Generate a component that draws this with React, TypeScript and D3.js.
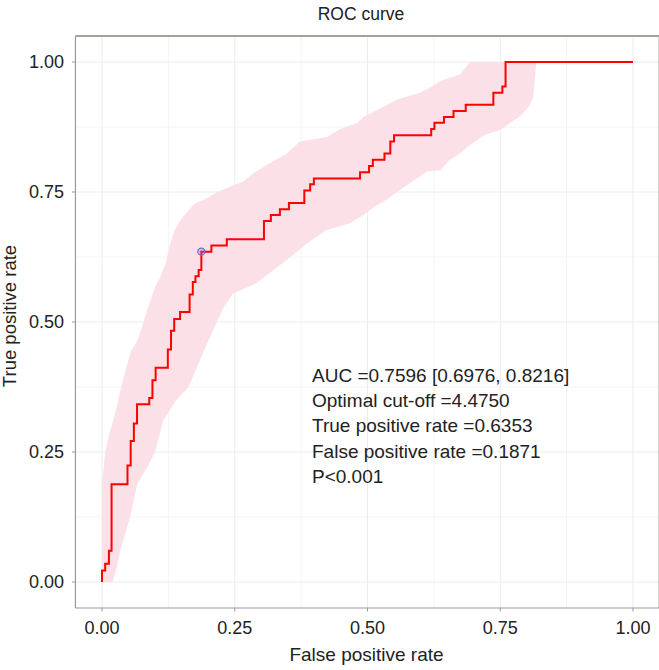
import React from "react";
import * as d3 from "d3";

// ---- data ----
const xTicks = [0, 0.25, 0.5, 0.75, 1];
const yTicks = [0, 0.25, 0.5, 0.75, 1];
const tickLabels = ["0.00", "0.25", "0.50", "0.75", "1.00"];
const minorBreaks = [0.125, 0.375, 0.625, 0.875];

// ROC staircase vertices (tops of each vertical step)
const rocFpr = [0, 0, 0.006, 0.013, 0.018, 0.048, 0.054, 0.06, 0.066, 0.089, 0.095, 0.101, 0.124, 0.13, 0.136, 0.147, 0.165, 0.171, 0.176, 0.182, 0.1871, 0.206, 0.235, 0.305, 0.318, 0.335, 0.352, 0.381, 0.392, 0.399, 0.486, 0.503, 0.51, 0.532, 0.543, 0.55, 0.62, 0.626, 0.644, 0.662, 0.685, 0.737, 0.754, 0.76, 1];
const rocTpr = [0, 0.022, 0.035, 0.06, 0.188, 0.224, 0.271, 0.305, 0.342, 0.354, 0.388, 0.412, 0.447, 0.483, 0.506, 0.519, 0.553, 0.577, 0.588, 0.6, 0.6353, 0.647, 0.659, 0.694, 0.706, 0.717, 0.729, 0.753, 0.765, 0.776, 0.788, 0.8, 0.812, 0.824, 0.847, 0.859, 0.871, 0.883, 0.894, 0.906, 0.918, 0.941, 0.953, 1, 1];

// Confidence band edges
const ciUpperFpr = [0, 0.006, 0.015, 0.025, 0.035, 0.045, 0.055, 0.065, 0.075, 0.085, 0.1, 0.11, 0.12, 0.128, 0.137, 0.15, 0.163, 0.175, 0.197, 0.219, 0.241, 0.266, 0.285, 0.31, 0.348, 0.373, 0.423, 0.448, 0.48, 0.492, 0.514, 0.536, 0.555, 0.599, 0.621, 0.64, 0.674, 0.693, 1];
const ciUpperTpr = [0.19, 0.25, 0.29, 0.325, 0.37, 0.41, 0.445, 0.46, 0.49, 0.523, 0.568, 0.587, 0.613, 0.65, 0.677, 0.699, 0.715, 0.728, 0.738, 0.751, 0.76, 0.77, 0.786, 0.802, 0.824, 0.847, 0.856, 0.871, 0.882, 0.894, 0.906, 0.917, 0.928, 0.941, 0.953, 0.965, 0.976, 1, 1];
const ciLowerFpr = [0, 0.02, 0.025, 0.034, 0.053, 0.067, 0.085, 0.1, 0.115, 0.14, 0.163, 0.19, 0.216, 0.23, 0.247, 0.29, 0.323, 0.348, 0.386, 0.423, 0.467, 0.492, 0.514, 0.536, 0.561, 0.589, 0.611, 0.637, 0.655, 0.674, 0.693, 0.721, 0.75, 0.768, 0.787, 0.806, 0.812, 0.815, 0.818, 1];
const ciLowerTpr = [0, 0, 0.017, 0.058, 0.125, 0.19, 0.22, 0.25, 0.31, 0.35, 0.375, 0.44, 0.5, 0.53, 0.555, 0.574, 0.6, 0.619, 0.651, 0.677, 0.69, 0.706, 0.722, 0.735, 0.754, 0.773, 0.789, 0.792, 0.812, 0.824, 0.84, 0.86, 0.869, 0.882, 0.895, 0.917, 0.933, 0.965, 1, 1];

const optimalFpr = [0.1871];
const optimalTpr = [0.6353];

const annotationLines = [
  "AUC =0.7596 [0.6976, 0.8216]",
  "Optimal cut-off =4.4750",
  "True positive rate =0.6353",
  "False positive rate =0.1871",
  "P<0.001",
];

const titleText = "ROC curve";
const xLabel = "False positive rate";
const yLabel = "True positive rate";

const FONT = "'Liberation Sans', Arial, Helvetica, sans-serif";

export default function App() {
  const W = 659;
  const H = 670;
  const x = d3.scaleLinear().domain([0, 1]).range([102, 633]);
  const y = d3.scaleLinear().domain([0, 1]).range([582, 62]);
  const left = x(-0.05);
  const right = x(1.05);
  const top = y(1.05);
  const bottom = y(-0.05);
  const cx = (left + right) / 2;
  const cy = (top + bottom) / 2;

  const rocPts: [number, number][] = rocFpr.map((f, i) => [f, rocTpr[i]]);
  const rocLine = d3
    .line<[number, number]>()
    .x((d) => x(d[0]))
    .y((d) => y(d[1]))
    .curve(d3.curveStepAfter);

  const upper: [number, number][] = ciUpperFpr.map((f, i) => [f, ciUpperTpr[i]]);
  const lower: [number, number][] = ciLowerFpr.map((f, i) => [f, ciLowerTpr[i]]);
  const bandPts = upper.concat(lower.slice().reverse());
  const bandLine = d3
    .line<[number, number]>()
    .x((d) => x(d[0]))
    .y((d) => y(d[1]));

  const gridMajor = "#ececec";
  const gridMinor = "#f4f4f4";

  return (
    <svg
      width={W}
      height={H}
      style={{ position: "fixed", left: 0, top: 0, background: "#fff" }}
      fontFamily={FONT}
    >
      <rect x={0} y={0} width={W} height={H} fill="#fff" />
      {/* grid */}
      {minorBreaks.map((v) => (
        <g key={"mn" + v}>
          <line x1={x(v)} x2={x(v)} y1={top} y2={bottom} stroke={gridMinor} strokeWidth={1} />
          <line x1={left} x2={right} y1={y(v)} y2={y(v)} stroke={gridMinor} strokeWidth={1} />
        </g>
      ))}
      {xTicks.map((v) => (
        <line key={"gx" + v} x1={x(v)} x2={x(v)} y1={top} y2={bottom} stroke={gridMajor} strokeWidth={1} />
      ))}
      {yTicks.map((v) => (
        <line key={"gy" + v} x1={left} x2={right} y1={y(v)} y2={y(v)} stroke={gridMajor} strokeWidth={1} />
      ))}

      {/* CI band */}
      <path d={bandLine(bandPts) + "Z"} fill="#fbe1e7" stroke="none" />

      {/* ROC curve */}
      <path d={rocLine(rocPts) || ""} fill="none" stroke="#ff0000" strokeWidth={2} strokeLinejoin="miter" />

      {/* optimal point */}
      {optimalFpr.map((f, i) => (
        <circle
          key={"op" + i}
          cx={x(f)}
          cy={y(optimalTpr[i])}
          r={3.6}
          fill="rgba(120,110,220,0.35)"
          stroke="#6f6fcf"
          strokeWidth={1.2}
        />
      ))}

      {/* panel frame */}
      <line x1={left} x2={right} y1={top} y2={top} stroke="#a3a39e" strokeWidth={2} />
      <line x1={right} x2={right} y1={top} y2={bottom} stroke="#a3a39e" strokeWidth={2} />
      <line x1={left} x2={left} y1={top} y2={bottom} stroke="#9a9a9a" strokeWidth={1.2} />
      <line x1={left} x2={right} y1={bottom} y2={bottom} stroke="#9a9a9a" strokeWidth={1.2} />

      {/* x ticks */}
      {xTicks.map((v, i) => (
        <g key={"xt" + v}>
          <line x1={x(v)} x2={x(v)} y1={bottom} y2={bottom + 3.5} stroke="#9a9a9a" strokeWidth={1} />
          <text x={x(v)} y={634} textAnchor="middle" fontSize={18} fill="#222">
            {tickLabels[i]}
          </text>
        </g>
      ))}
      {/* y ticks */}
      {yTicks.map((v, i) => (
        <g key={"yt" + v}>
          <line x1={left - 3.5} x2={left} y1={y(v)} y2={y(v)} stroke="#9a9a9a" strokeWidth={1} />
          <text x={64} y={y(v)} dy="0.36em" textAnchor="end" fontSize={18} fill="#222">
            {tickLabels[i]}
          </text>
        </g>
      ))}

      {/* titles */}
      <text x={361} y={20} textAnchor="middle" fontSize={17.5} fill="#222">
        {titleText}
      </text>
      <text x={cx - 1} y={661} textAnchor="middle" fontSize={19} fill="#222">
        {xLabel}
      </text>
      <text
        transform={`translate(16,${cy - 6}) rotate(-90)`}
        textAnchor="middle"
        fontSize={18.5}
        fill="#222"
      >
        {yLabel}
      </text>

      {/* annotation */}
      {annotationLines.map((t, i) => (
        <text key={"an" + i} x={312} y={382 + i * 25.2} fontSize={19} fill="#222">
          {t}
        </text>
      ))}
    </svg>
  );
}
